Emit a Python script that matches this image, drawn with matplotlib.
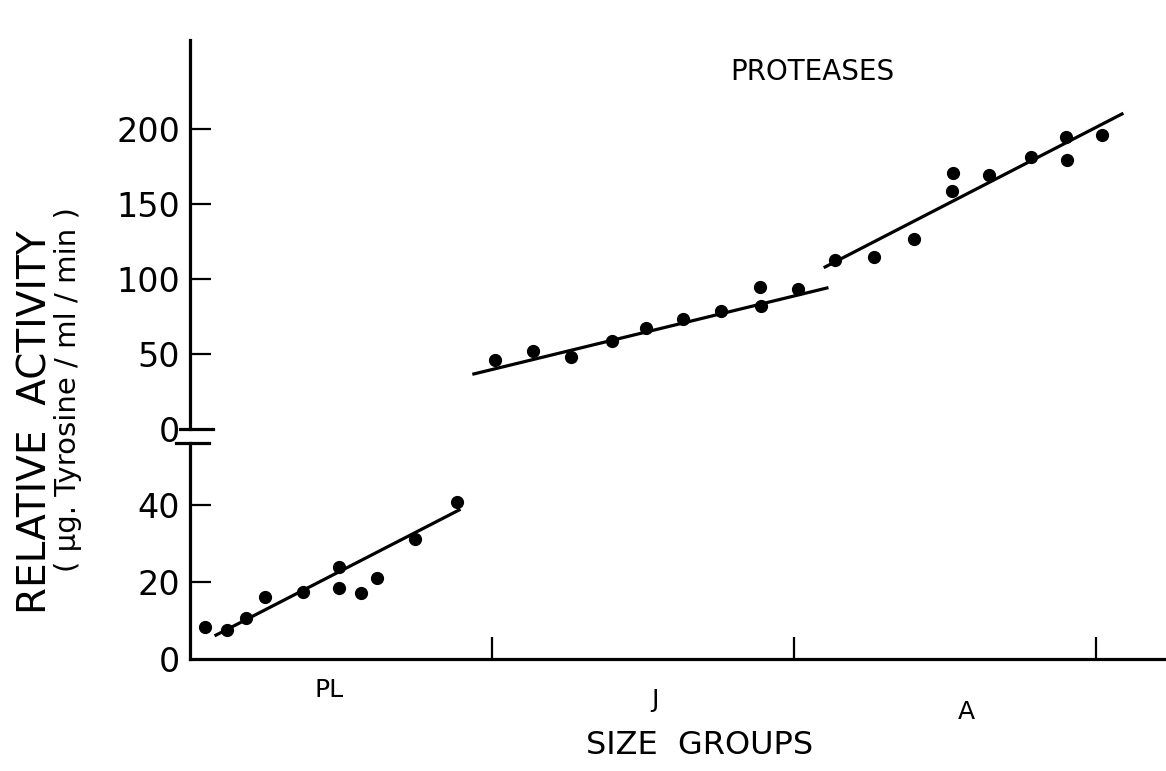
import matplotlib
matplotlib.use("Agg")
import matplotlib.pyplot as plt
from matplotlib.lines import Line2D
from matplotlib.transforms import blended_transform_factory

# ---------------- data ----------------
group_labels = ["PL", "J", "A"]
group_ticks = [1, 2, 3]

# PL group (lower scale, 0-40)
pl_x = [0.05, 0.123, 0.185, 0.248, 0.374, 0.493, 0.493, 0.566, 0.619, 0.745, 0.884]
pl_y = [8.3, 7.5, 10.6, 16.1, 17.4, 23.9, 18.4, 17.1, 21.0, 31.2, 40.8]
pl_fit_x = [0.086, 0.891]
pl_fit_y = [6.2, 38.7]

# J group (upper scale)
j_x = [1.01, 1.136, 1.262, 1.397, 1.51, 1.632, 1.758, 1.887, 1.891, 2.013]
j_y = [46, 52, 48, 58.7, 67.3, 73.3, 78.7, 94.7, 82, 93.3]
j_fit_x = [0.94, 2.109]
j_fit_y = [36.7, 94]

# A group (upper scale)
a_x = [2.136, 2.265, 2.397, 2.526, 2.523, 2.646, 2.785, 2.901, 2.904, 3.02]
a_y = [112.7, 114.7, 126.7, 170.7, 158.7, 169.3, 181.3, 194.7, 179.3, 196]
a_fit_x = [2.103, 3.086]
a_fit_y = [108, 210]

lower_ticks = [0, 20, 40]
upper_ticks = [0, 50, 100, 150, 200]

# ---------------- layout ----------------
W, H = 1166, 771
fig = plt.figure(figsize=(W / 100, H / 100), dpi=100)
fig.patch.set_facecolor("white")


def px_rect(left, top, right, bottom):
    return [left / W, 1 - bottom / H, (right - left) / W, (bottom - top) / H]


ax_low = fig.add_axes(px_rect(190, 443, 1166, 659))
ax_up = fig.add_axes(px_rect(190, 40, 1166, 429))

LW = 2.3
XMAX = (1166 - 190) / 302.0

for ax in (ax_low, ax_up):
    ax.set_xlim(0, XMAX)
    ax.spines["top"].set_visible(False)
    ax.spines["right"].set_visible(False)
    ax.spines["left"].set_linewidth(LW)
    ax.spines["bottom"].set_linewidth(LW)
    ax.patch.set_alpha(0)
    ax.tick_params(axis="y", direction="in", length=15, width=1.6,
                   labelsize=24, pad=7)

ax_up.spines["bottom"].set_visible(False)
ax_up.set_xticks([])

ax_low.set_ylim(0, 56.1)
ax_up.set_ylim(0, 259.3)

ax_low.set_yticks(lower_ticks)
ax_low.set_yticklabels([str(t) for t in lower_ticks])
ax_up.set_yticks(upper_ticks)
ax_up.set_yticklabels([str(t) for t in upper_ticks])
ax_up.yaxis.get_major_ticks()[0].tick1line.set_visible(False)
ax_low.yaxis.get_major_ticks()[0].tick1line.set_visible(False)

ax_low.set_xticks(group_ticks)
ax_low.set_xticklabels([""] * len(group_ticks))
ax_low.tick_params(axis="x", direction="in", length=16, width=1.6)

# data
ms = 8.5
ax_low.plot(pl_x, pl_y, "o", color="black", ms=ms, clip_on=False)
ax_low.plot(pl_fit_x, pl_fit_y, "-", color="black", lw=LW)
ax_up.plot(j_x, j_y, "o", color="black", ms=ms, clip_on=False)
ax_up.plot(j_fit_x, j_fit_y, "-", color="black", lw=LW)
ax_up.plot(a_x, a_y, "o", color="black", ms=ms, clip_on=False)
ax_up.plot(a_fit_x, a_fit_y, "-", color="black", lw=LW)

# axis break marks
fig.add_artist(Line2D([180 / W, 213 / W], [1 - 429 / H] * 2, color="black", lw=LW))
fig.add_artist(Line2D([176 / W, 209 / W], [1 - 443 / H] * 2, color="black", lw=LW))

# group labels
trans = blended_transform_factory(ax_low.transData, fig.transFigure)
label_offsets = [-0.04, 0.04, 0.07]
label_py = [690, 700, 712]
for i, lab in enumerate(group_labels):
    ax_low.text(i + 0.5 + label_offsets[i], 1 - label_py[i] / H, lab,
                transform=trans, ha="center", va="center", fontsize=18)

fig.text(700 / W, 1 - 745 / H, "SIZE  GROUPS", ha="center", va="center",
         fontsize=23)
fig.text(812 / W, 1 - 72 / H, "PROTEASES", ha="center", va="center",
         fontsize=20)
fig.text(36 / W, 1 - 422 / H, "RELATIVE  ACTIVITY", rotation=90,
         ha="center", va="center", fontsize=28)
fig.text(68 / W, 1 - 390 / H, "( \u00b5g. Tyrosine / ml / min )", rotation=90,
         ha="center", va="center", fontsize=21)

fig.savefig("out.png", dpi=100, facecolor="white")
